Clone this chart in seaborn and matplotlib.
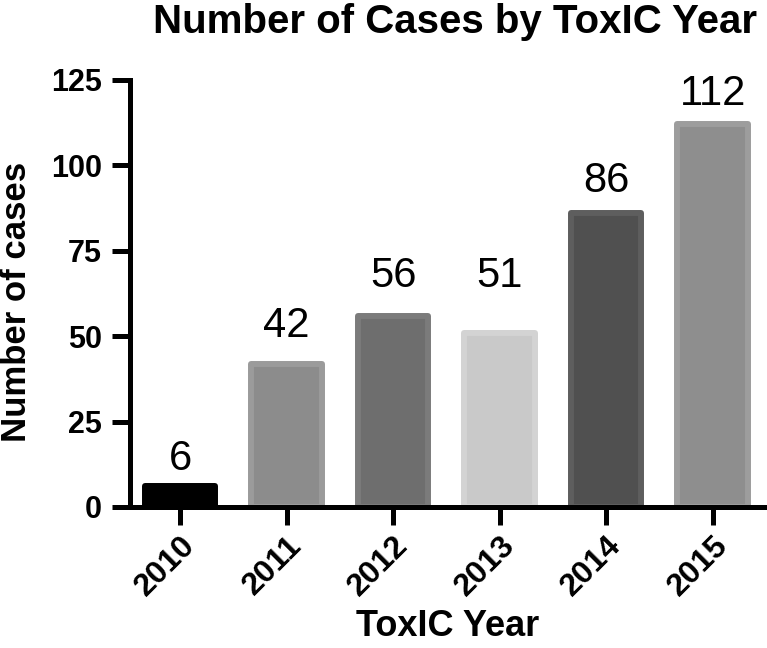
import matplotlib
matplotlib.use("Agg")
import matplotlib.pyplot as plt
import seaborn as sns
import pandas as pd

years = ["2010", "2011", "2012", "2013", "2014", "2015"]
cases = [6, 42, 56, 51, 86, 112]
fill_colors = ["#000000", "#8c8c8c", "#6e6e6e", "#c9c9c9", "#505050", "#8e8e8e"]
edge_colors = ["#000000", "#9b9b9b", "#7b7b7b", "#d3d3d3", "#5e5e5e", "#9d9d9d"]
label_offsets = [12, 19, 21, 33, 15, 14]  # points above bar top

sns.set_theme(style="ticks")
plt.rcParams["font.family"] = ["Liberation Sans", "DejaVu Sans"]
plt.rcParams["text.color"] = "black"
plt.rcParams["axes.labelcolor"] = "black"
plt.rcParams["xtick.color"] = "black"
plt.rcParams["ytick.color"] = "black"

df = pd.DataFrame({"year": years, "cases": cases})

fig = plt.figure(figsize=(7.67, 6.48), dpi=100)
ax = fig.add_axes([0.1695, 0.2176, 0.8290, 0.659])

sns.barplot(data=df, x="year", y="cases", hue="year", palette=fill_colors,
            legend=False, width=0.66, ax=ax, saturation=1)
for p, ec in zip(ax.patches, edge_colors):
    p.set_edgecolor(ec)
    p.set_linewidth(4.3)
    p.set_joinstyle("round")

for i, (v, off) in enumerate(zip(cases, label_offsets)):
    ax.annotate(str(v), (i, v), xytext=(0, off), textcoords="offset points",
                ha="center", va="baseline", fontsize=30, color="black")

ax.set_xlim(-0.47, 5.5)
ax.set_ylim(0, 125)
ax.set_yticks([0, 25, 50, 75, 100, 125])
sns.despine(ax=ax)
for s in ["left", "bottom"]:
    ax.spines[s].set_linewidth(3.6)
    ax.spines[s].set_color("black")
ax.tick_params(axis="both", length=13, width=3.6, color="black",
               labelcolor="black")
ax.tick_params(axis="y", labelsize=22, pad=7)
ax.tick_params(axis="x", labelsize=23, pad=4)
for lab in ax.get_yticklabels():
    lab.set_fontweight("bold")
for lab in ax.get_xticklabels():
    lab.set_fontweight("bold")
    lab.set_rotation(45)
    lab.set_ha("right")
    lab.set_va("top")
    lab.set_rotation_mode("anchor")

ax.set_xlabel("ToxIC Year", fontsize=26, fontweight="bold", color="black")
ax.xaxis.label.set_va("baseline")
ax.xaxis.set_label_coords(0.5, -0.302)
ax.set_ylabel("Number of cases", fontsize=25, fontweight="bold", color="black")
ax.yaxis.set_label_coords(-0.153, 0.48)
fig.suptitle("Number of Cases by ToxIC Year", fontsize=29, fontweight="bold",
             x=0.593, y=0.995, va="top", color="black")

fig.savefig("out.png", dpi=100)
